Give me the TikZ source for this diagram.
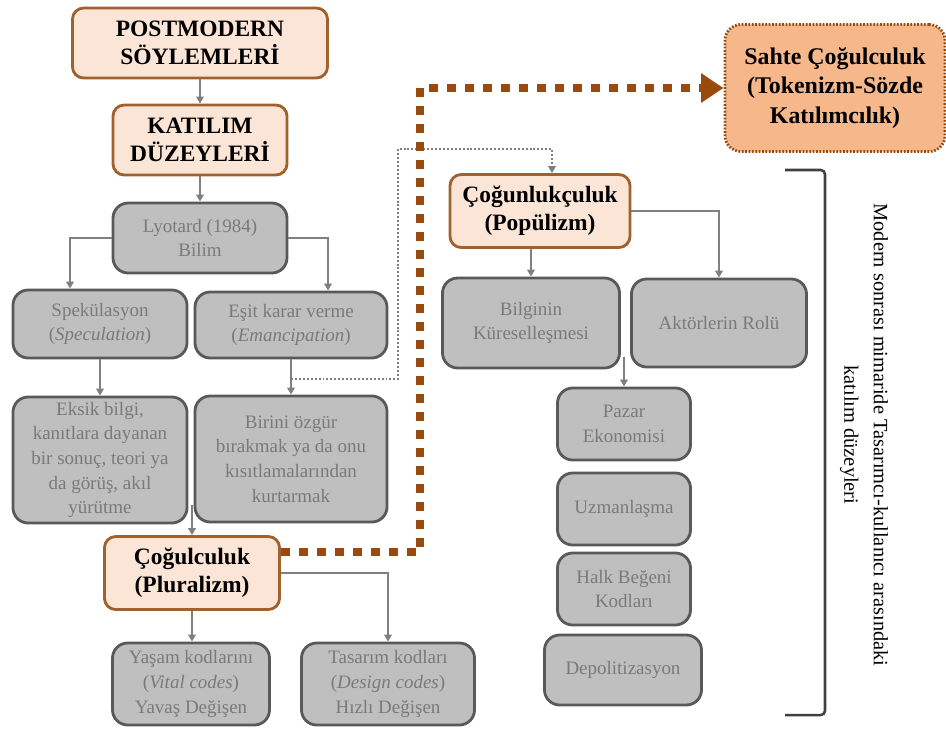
\documentclass[tikz,border=0pt]{standalone}
\usepackage{fontspec}
\setmainfont{Liberation Serif}
\usetikzlibrary{arrows.meta}
\definecolor{peachfill}{HTML}{FBE5D6}
\definecolor{peachline}{HTML}{A0612E}
\definecolor{fakefill}{HTML}{F6B78A}
\definecolor{brownline}{HTML}{9A4A0C}
\definecolor{boxgrey}{HTML}{BFBFBF}
\definecolor{edgegrey}{HTML}{595959}
\definecolor{textgrey}{HTML}{7A7A7A}
\definecolor{linegrey}{HTML}{808080}
\definecolor{bracketgrey}{HTML}{404040}

\begin{document}
\begin{tikzpicture}[x=0.025cm,y=-0.025cm,
    peach/.style={draw=peachline,fill=peachfill,line width=2pt,rounded corners=0.28cm,
        align=center,inner sep=0pt,font=\rmfamily\bfseries\fontsize{16.7}{20}\selectfont},
    fake/.style={draw=brownline,fill=fakefill,line width=2pt,dash pattern=on 1.2pt off 1.2pt,
        rounded corners=0.4cm,align=center,inner sep=0pt,font=\rmfamily\bfseries\fontsize{17}{21}\selectfont},
    grey/.style={draw=edgegrey,fill=boxgrey,line width=2pt,rounded corners=0.38cm,
        align=center,inner sep=0pt,text=textgrey,font=\rmfamily\fontsize{13.5}{17.5}\selectfont},
    conn/.style={draw=linegrey,line width=1.4pt,-{Triangle[length=5pt,width=5.5pt]}},
    dotconn/.style={draw=linegrey,line width=1.6pt,dash pattern=on 1.4pt off 1.4pt,
        -{Triangle[length=5pt,width=5.5pt]}},
    bigdash/.style={draw=brownline,line width=5.5pt,dash pattern=on 6.4pt off 6.4pt,
        -{Triangle[length=16pt,width=20pt]}}]
    \useasboundingbox (0,0) rectangle (946,733);

    \node (pm) at (200,43) [peach,minimum width=6.375cm,minimum height=1.75cm] {POSTMODERN\\SÖYLEMLERİ};
    \node (kd) at (200,140) [peach,minimum width=4.35cm,minimum height=1.75cm] {KATILIM\\DÜZEYLERİ};
    \node (ly) at (200,238) [grey,minimum width=4.35cm,minimum height=1.75cm] {Lyotard (1984)\\Bilim};
    \node (sp) at (100,324) [grey,minimum width=4.35cm,minimum height=1.7cm] {Spekülasyon\\(\textit{Speculation})};
    \node (ek) at (291,325) [grey,minimum width=4.8cm,minimum height=1.65cm] {Eşit karar verme\\(\textit{Emancipation})};
    \node (eb) at (100,460) [grey,minimum width=4.35cm,minimum height=3.15cm] {Eksik bilgi,\\kanıtlara dayanan\\bir sonuç, teori ya\\da görüş, akıl\\yürütme};
    \node (bo) at (291,459) [grey,minimum width=4.8cm,minimum height=3.15cm] {Birini özgür\\bırakmak ya da onu\\kısıtlamalarından\\kurtarmak};
    \node (pl) at (192,573) [peach,minimum width=4.375cm,minimum height=1.825cm] {Çoğulculuk\\(Pluralizm)};
    \node (yk) at (191,684) [grey,minimum width=3.925cm,minimum height=2.05cm] {Yaşam kodlarını\\(\textit{Vital codes})\\Yavaş Değişen};
    \node (tk) at (388,684) [grey,minimum width=4.325cm,minimum height=2.05cm] {Tasarım kodları\\(\textit{Design codes})\\Hızlı Değişen};

    \node (sc) at (835,88) [fake,minimum width=5.5cm,minimum height=3.175cm] {Sahte Çoğulculuk\\(Tokenizm-Sözde\\Katılımcılık)};
    \node (po) at (540,211) [peach,minimum width=4.5cm,minimum height=1.825cm] {Çoğunlukçuluk\\(Popülizm)};
    \node (bk) at (531,323) [grey,minimum width=4.425cm,minimum height=2.25cm] {Bilginin\\Küreselleşmesi};
    \node (ar) at (719,323) [grey,minimum width=4.375cm,minimum height=2.2cm] {Aktörlerin Rolü};
    \node (pe) at (624,424) [grey,minimum width=3.325cm,minimum height=1.8cm] {Pazar\\Ekonomisi};
    \node (uz) at (624,509) [grey,minimum width=3.325cm,minimum height=1.8cm] {Uzmanlaşma};
    \node (hb) at (624,589) [grey,minimum width=3.325cm,minimum height=1.8cm] {Halk Beğeni\\Kodları};
    \node (de) at (623,670) [grey,minimum width=3.925cm,minimum height=1.75cm] {Depolitizasyon};

    \node (cap) at (864,435) [rotate=-90,align=center,font=\rmfamily\fontsize{14.5}{21}\selectfont]
        {Modern sonrası mimaride Tasarımcı-kullanıcı arasındaki\\katılım düzeyleri};

    \coordinate (dt) at (291,379);
    \coordinate (ebpl) at (192,505);
    \coordinate (bkpe) at (624,357);

    \draw[conn] (pm) -- (kd);
    \draw[conn] (kd) -- (ly);
    \draw[conn] (ly.west) -| ([xshift=-0.75cm]sp.north);
    \draw[conn] (ly.east) -| ([xshift=0.925cm]ek.north);
    \draw[conn] (sp) -- (eb);
    \draw[conn] (ek) -- (bo);
    \draw[conn] (ebpl) -- (pl.north);
    \draw[conn] (pl.south) -- (pl.south |- yk.north);
    \draw[conn] (pl.east) -| (tk.north);
    \draw[conn] (bk.north |- po.south) -- (bk.north);
    \draw[conn] (po.east) -| (ar.north);
    \draw[conn] (bkpe) -- (pe.north);
    \draw[dotconn] (dt) -| (398,149) -| ([xshift=0.3cm]po.north);
    \draw[bigdash] ([yshift=0.525cm]pl.east) -| (420,88) -- (sc.west);
    \draw[draw=bracketgrey,line width=1.8pt,rounded corners=3pt] (785,170) -- (825,170) -- (825,715) -- (785,715);
\end{tikzpicture}
\end{document}
